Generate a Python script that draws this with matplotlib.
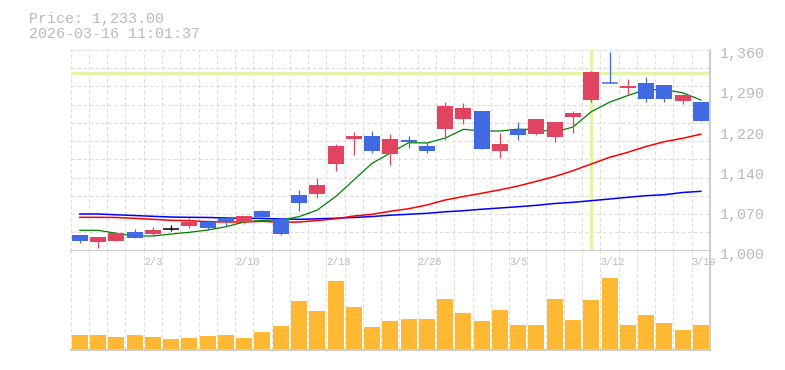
import matplotlib
matplotlib.use('Agg')
import matplotlib.pyplot as plt
from matplotlib.transforms import offset_copy
import numpy as np

# trading days shown on the chart
dates = ['1/28', '1/29', '1/30', '2/2', '2/3', '2/4', '2/5', '2/6', '2/9', '2/10',
         '2/12', '2/13', '2/16', '2/17', '2/18', '2/19', '2/20', '2/24', '2/25', '2/26',
         '2/27', '3/2', '3/3', '3/4', '3/5', '3/6', '3/9', '3/10', '3/11', '3/12',
         '3/13', '3/16', '3/17', '3/18', '3/19']

opens = [1027.6, 1015.6, 1017.4, 1033.5, 1030.0, 1039.5, 1044.3, 1051.5, 1058.1, 1051.5,
         1071.3, 1056.9, 1099.9, 1101.7, 1156.1, 1200.9, 1205.7, 1174.0, 1199.1, 1187.8,
         1218.3, 1236.8, 1250.6, 1179.4, 1216.5, 1209.3, 1204.0, 1239.3, 1270.3, 1302.0,
         1291.3, 1300.8, 1297.2, 1269.1, 1266.7]
highs = [1028.5, 1024.6, 1033.5, 1038.9, 1042.5, 1046.1, 1058.1, 1055.1, 1058.6, 1062.2,
         1073.5, 1056.9, 1108.9, 1130.4, 1191.4, 1212.9, 1214.7, 1209.3, 1205.7, 1195.5,
         1266.7, 1264.9, 1250.6, 1211.1, 1230.9, 1236.2, 1230.9, 1251.3, 1322.3, 1356.4,
         1308.0, 1311.6, 1297.2, 1281.6, 1266.7]
lows = [1014.3, 1005.4, 1017.4, 1023.3, 1026.4, 1035.9, 1041.3, 1037.7, 1044.8, 1048.4,
        1060.5, 1028.3, 1071.7, 1094.5, 1143.0, 1172.2, 1175.8, 1154.3, 1183.7, 1175.8,
        1198.0, 1227.8, 1182.4, 1166.3, 1198.6, 1207.5, 1195.7, 1211.1, 1266.7, 1300.2,
        1281.0, 1267.3, 1267.3, 1263.7, 1233.0]
closes = [1017.4, 1024.6, 1031.8, 1023.3, 1037.1, 1039.5, 1051.5, 1041.3, 1051.5, 1062.2,
          1060.5, 1030.0, 1086.1, 1117.9, 1187.8, 1205.7, 1178.8, 1200.4, 1195.5, 1179.4,
          1259.6, 1256.0, 1182.4, 1191.4, 1207.5, 1236.2, 1230.9, 1247.7, 1320.5, 1301.5,
          1295.5, 1272.6, 1272.6, 1279.3, 1233.0]

# moving averages as drawn
ma_short = [1036.6, 1036.6, 1031.2, 1026.4, 1026.4, 1030.0, 1033.0, 1037.1, 1043.0, 1051.5,
            1054.5, 1055.1, 1061.0, 1073.0, 1096.9, 1126.8, 1156.8, 1175.2, 1193.7, 1193.2,
            1202.0, 1217.8, 1214.7, 1214.7, 1218.0, 1217.2, 1212.9, 1221.9, 1249.3, 1266.4,
            1278.4, 1288.8, 1288.8, 1283.4, 1270.3]
ma_mid = [1059.9, 1059.9, 1059.6, 1058.1, 1056.3, 1054.5, 1053.8, 1052.0, 1051.5, 1051.5,
          1052.7, 1050.9, 1051.5, 1054.2, 1057.2, 1062.2, 1065.3, 1070.8, 1075.3, 1082.0,
          1090.9, 1097.2, 1103.0, 1109.2, 1116.1, 1124.5, 1133.1, 1143.5, 1155.5, 1167.5,
          1176.5, 1186.9, 1195.5, 1201.6, 1209.0]
ma_long = [1065.8, 1065.8, 1064.4, 1063.1, 1061.7, 1060.4, 1059.9, 1059.6, 1058.7, 1058.1,
           1058.1, 1056.9, 1056.3, 1057.2, 1058.3, 1059.6, 1061.3, 1063.7, 1065.3, 1067.1,
           1069.8, 1071.7, 1074.4, 1076.6, 1078.9, 1081.4, 1084.7, 1086.8, 1089.7, 1092.7,
           1095.8, 1098.7, 1100.4, 1104.4, 1106.5]

# volume (thousand shares)
volumes = [140, 140, 120, 140, 120, 100, 110, 130, 140, 110,
           170, 230, 480, 380, 680, 420, 220, 280, 300, 300,
           500, 360, 280, 390, 240, 240, 500, 290, 490, 710,
           240, 340, 260, 190, 240]

price_ticks = [1000, 1072, 1144, 1216, 1288, 1360]
price_labels = ['1,000', '1,070', '1,140', '1,220', '1,290', '1,360']

cross_idx = 28
cross_price = 1318
title_price = 'Price: 1,233.00'
title_time = '2026-03-16 11:01:37'

UP = '#e04460'
DOWN = '#4169e1'
GRID = '#dcdcdc'
AXIS = '#c4c4c4'
TXT = '#bababa'
FONT = 'Liberation Mono'
DASH = (0, (3.4, 2.4))

W, H = 785, 370
L, R = 70.7, 710
T, M, B = 50, 250.7, 350

fig = plt.figure(figsize=(W / 100, H / 100), dpi=100)
ax = fig.add_axes([L / W, 1 - M / H, (R - L) / W, (M - T) / H])
axv = fig.add_axes([L / W, 1 - B / H, (R - L) / W, (B - M) / H])

n = len(closes)
x = np.arange(n)
bw = 0.876

for a in (ax, axv):
    a.set_xlim(-0.5, n - 0.5)
    a.set_xticks([])
    a.set_xticks(np.arange(-0.5, n + 0.5, 1), minor=True)
    a.set_yticks([])
    a.tick_params(which='both', length=0, labelleft=False, labelbottom=False)
    a.grid(which='minor', axis='x', color=GRID, linestyle=DASH, lw=0.75)
    for s in ('top', 'left'):
        a.spines[s].set_visible(False)
    for s in ('right', 'bottom'):
        a.spines[s].set_color(AXIS)
        a.spines[s].set_linewidth(1.2)
    a.set_axisbelow(True)

ax.set_ylim(1000, 1360)
ax.set_yticks(np.linspace(1000, 1360, 12), minor=True)
ax.grid(which='minor', axis='y', color=GRID, linestyle=DASH, lw=0.75)

# crosshair
ax.axhline(cross_price, color='#e4f4a6', lw=2.2, zorder=1.5)
ax.axvline(cross_idx, ymin=0.008, ymax=0.992, color='#e4f4a6', lw=2.4, zorder=1.5)

# moving averages
ax.plot(x, ma_long, color='#0000ff', lw=1.1, zorder=2)
ax.plot(x, ma_mid, color='#ff0000', lw=1.1, zorder=2)
ax.plot(x, ma_short, color='#008000', lw=0.9, zorder=2.1)

# candles
for i in range(n):
    o, h, l, c = opens[i], highs[i], lows[i], closes[i]
    if c > o:
        col = UP
    elif c < o:
        col = DOWN
    else:
        col = 'black'
    ax.vlines(i, l, h, color=col, lw=0.9, zorder=3)
    if abs(c - o) < 1:
        ax.hlines(c, i - bw / 2, i + bw / 2, color=col, lw=1.1, zorder=4)
    else:
        ax.bar(i, abs(c - o), bottom=min(o, c), width=bw, color=col, lw=0, zorder=4)

# volume
axv.set_ylim(-15, 978)
axv.bar(x, volumes, width=bw, color='#ffb833', lw=0, zorder=2)

# price labels on the right
tr = offset_copy(ax.get_yaxis_transform(), fig=fig, x=10, y=-8.3, units='dots')
for v, s in zip(price_ticks, price_labels):
    ax.text(1, v, s, transform=tr, ha='left', va='baseline', fontsize=10.8,
            color=TXT, family=FONT, clip_on=False)

# date labels
trx = offset_copy(axv.get_xaxis_transform(), fig=fig, x=0, y=-11, units='dots')
for i in range(4, n, 5):
    axv.text(i - 0.5, 1, dates[i], transform=trx, ha='left', va='center',
             fontsize=7.3, color=TXT, family=FONT, clip_on=False)

fig.text(29 / W, 1 - 22.7 / H, title_price, va='baseline', ha='left',
         fontsize=10.8, color=TXT, family=FONT)
fig.text(29 / W, 1 - 37.7 / H, title_time, va='baseline', ha='left',
         fontsize=10.8, color=TXT, family=FONT)

fig.savefig('out.png', dpi=100)
